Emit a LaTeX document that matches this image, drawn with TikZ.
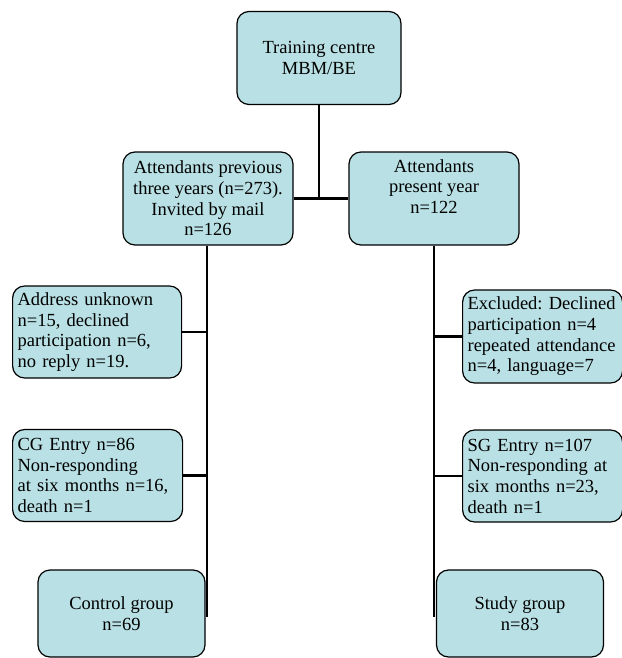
\documentclass[tikz,border=0pt]{standalone}
\usepackage{fontspec}
\setmainfont{Liberation Serif}
\usetikzlibrary{positioning}
\definecolor{boxfill}{RGB}{185,224,228}
\frenchspacing

\begin{document}
\begin{tikzpicture}[x=1pt,y=-1pt]
		\tikzset{
			box/.style={draw=black, line width=1.2pt, fill=boxfill, rounded corners=12pt,
				inner sep=0pt, font=\rmfamily\fontsize{18.5}{20.7}\selectfont},
			midbox/.style={box, minimum width=170pt, minimum height=93pt, align=center},
			sidebox/.style={box, minimum height=92pt, inner xsep=5pt, text width=#1, align=left},
			endbox/.style={box, minimum width=167pt, minimum height=87pt, align=center},
			link/.style={line width=2.6pt}
		}
		\useasboundingbox (0,0) rectangle (621,658);
		% top of the tree
		\node[box, minimum width=164pt, minimum height=93pt, align=center] (centre) at (319,58) {Training centre\\MBM/BE};
		\node[midbox] (previous) at (208,198.5) {Attendants previous\\three years (n=273).\\Invited by mail\\n=126};
		\node[midbox] (present) at (434,198.5) {};
		\node[anchor=north, align=center, font=\rmfamily\fontsize{18.5}{20.7}\selectfont, inner sep=0pt] (presenttext) at (434,159) {Attendants\\present year\\n=122};
		% left branch
		\node[sidebox=159pt, anchor=west] (address) at (12,332) {Address unknown\\n=15, declined\\participation n=6,\\no reply n=19.};
		\node[sidebox=160pt, anchor=west] (cgentry) at (12,475.5) {CG Entry n=86\\Non-responding\\at six months n=16,\\death n=1};
		\node[endbox] (control) at (121.5,613.5) {Control group\\n=69};
		% right branch
		\node[sidebox=150pt, anchor=west, minimum height=93pt] (excluded) at (462,336.5) {Excluded: Declined\\participation n=4\\repeated attendance\\n=4, language=7};
		\node[sidebox=150pt, anchor=west] (sgentry) at (462,476) {SG Entry n=107\\Non-responding at\\six months n=23,\\death n=1};
		\node[endbox] (study) at (520,613.5) {Study group\\n=83};
		\coordinate (ctrlend) at (207,617);
		\coordinate (studyend) at (434,617);
		% connectors
		\draw[link] (centre.south) |- (previous.east);
		\draw[link] (centre.south) |- (present.west);
		\draw[link] (previous.south -| ctrlend) -- (ctrlend);
		\draw[link] (present.south) -- (studyend);
		\draw[link] (address.east) -- (address.east -| ctrlend);
		\draw[link] (cgentry.east) -- (cgentry.east -| ctrlend);
		\draw[link] (excluded.west) -- (excluded.west -| studyend);
		\draw[link] (sgentry.west) -- (sgentry.west -| studyend);
	\end{tikzpicture}
\end{document}
